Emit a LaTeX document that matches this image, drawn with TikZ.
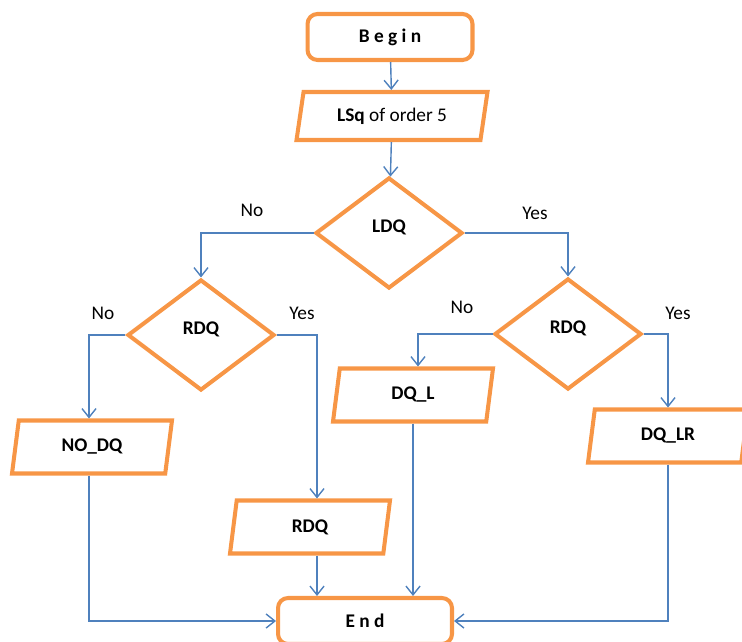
\documentclass[tikz,border=0pt]{standalone}
\usepackage{fontspec}
\setmainfont{Carlito}
\usetikzlibrary{shapes.geometric,arrows.meta}
\definecolor{boxorange}{HTML}{F79646}
\definecolor{lineblue}{HTML}{4F81BD}
\begin{document}
\begin{tikzpicture}[
        x=0.02cm, y=-0.02cm,
        every node/.style={align=center, font=\fontsize{11}{13}\selectfont},
        terminal/.style={draw=boxorange, line width=2.3pt, rounded corners=0.2cm,
            minimum height=0.92cm, font=\fontsize{11}{13}\selectfont\bfseries},
        decision/.style={draw=boxorange, line width=2.3pt, diamond, inner sep=0pt,
            text depth=8pt, minimum width=2.94cm, minimum height=2.22cm,
            font=\fontsize{11}{13}\selectfont\bfseries},
        io/.style={draw=boxorange, line width=2.3pt, trapezium, trapezium stretches body,
            trapezium left angle=76, trapezium right angle=104,
            minimum width=3.2cm, minimum height=1.06cm, font=\fontsize{11}{13}\selectfont\bfseries},
        flow/.style={draw=lineblue, line width=0.8pt, -{Straight Barb[length=5pt,width=8pt]}}
        ]
        \useasboundingbox (0,0) rectangle (742,641);
        % boxes
        \node[terminal, minimum width=3.3cm] (begin) at (390,37) {B e g i n};
        \node[io, minimum width=3.82cm, minimum height=0.96cm, font=\fontsize{11}{13}\selectfont] (lsq) at (392,116) {\textbf{LSq} of order 5};
        \node[decision] (ldq) at (389,233) {LDQ};
        \node[decision] (rdqleft) at (201,335) {RDQ};
        \node[decision] (rdqright) at (568,334) {RDQ};
        \node[io] (nodq) at (92,447) {NO\_DQ};
        \node[io] (dql) at (413,395) {DQ\_L};
        \node[io] (dqlr) at (668,436) {DQ\_LR};
        \node[io] (rdq) at (310,527) {RDQ};
        \node[terminal, minimum width=3.48cm] (end) at (365,621) {E n d};
        % branch labels
        \node (noldq) at (252,210) {No};
        \node (yesldq) at (535,213) {Yes};
        \node (noleft) at (103,313) {No};
        \node (yesleft) at (302,313) {Yes};
        \node (noright) at (462,307) {No};
        \node (yesright) at (678,313) {Yes};
        % connectors
        \draw[flow] (begin) -- (lsq);
        \draw[flow] (lsq) -- (ldq);
        \draw[flow] (ldq.west) -| (rdqleft.north);
        \draw[flow] (ldq.east) -| (rdqright.north);
        \draw[flow] (rdqleft.west) -| ([xshift=-0.06cm]nodq.north);
        \draw[flow] (rdqleft.east) -| ([xshift=0.14cm]rdq.north);
        \draw[flow] (rdqright.west) -| ([xshift=0.1cm]dql.north);
        \draw[flow] (rdqright.east) -| (dqlr.north);
        \draw[flow] ([xshift=-0.06cm]nodq.south) |- (end.west);
        \draw[flow] ([xshift=0.14cm]rdq.south) -- ([xshift=0.14cm]rdq.south |- end.north);
        \draw[flow] (dql.south) -- (dql.south |- end.north);
        \draw[flow] (dqlr.south) |- (end.east);
    \end{tikzpicture}
\end{document}
